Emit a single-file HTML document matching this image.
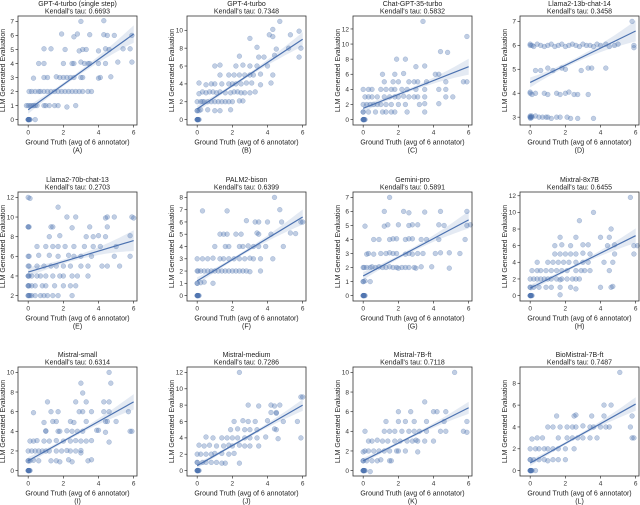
<!DOCTYPE html>
<html><head><meta charset="utf-8"><style>
html,body{margin:0;padding:0;background:#fff;}
svg{display:block;font-family:"Liberation Sans",sans-serif;}
</style></head><body>
<svg id="chart" width="640" height="505" viewBox="0 0 640 505" xmlns="http://www.w3.org/2000/svg"></svg>
<script>
const titles = ["GPT-4-turbo (single step)","GPT-4-turbo","Chat-GPT-35-turbo","Llama2-13b-chat-14","Llama2-70b-chat-13","PALM2-bison","Gemini-pro","Mixtral-8x7B","Mistral-small","Mistral-medium","Mistral-7B-ft","BioMistral-7B-ft"];
const taus = ["0.6693","0.7348","0.5832","0.3458","0.2703","0.6399","0.5891","0.6455","0.6314","0.7286","0.7118","0.7487"];
const letters = ["A","B","C","D","E","F","G","H","I","J","K","L"];
const xTicks = [0,2,4,6];
const yTickSets = [[0,1,2,3,4,5,6,7],[0,2,4,6,8,10],[0,2,4,6,8,10,12],[3,4,5,6,7],[2,4,6,8,10,12],[0,1,2,3,4,5,6,7,8],[0,1,2,3,4,5,6,7],[0,2,4,6,8,10,12],[0,2,4,6,8,10],[0,2,4,6,8,10,12],[0,2,4,6,8,10],[0,2,4,6,8]];
const yDataMin = [0,0,0,2.9,2,0,0,0,0,0,0,0];
const yDataMax = [7,11,13,7,12,8,7,11.8,10,12,10,9];
const fitStart = [0.7,1.2,1.5,4.45,4.4,1.2,1.4,0.9,1.0,0.6,1.0,0.7];
const fitEnd = [6.1,9.0,7.0,6.6,7.6,6.4,5.4,7.2,7.0,8.0,6.4,6.1];
const bandWidth = [0.35,0.45,0.6,0.25,0.6,0.35,0.35,0.5,0.45,0.4,0.35,0.35];
const Z8 = [[0,0],[0,0],[0,0],[0.02,0],[0.05,0],[0.08,0],[0.1,0],[0.03,0]];
const points = [
Z8.concat([[0.4,0],[-0.1,1],[0,1],[0.1,1],[0.2,1],[0.3,1],[0.4,1],[0.5,1],[0.9,1],[1.0,1],[1.2,1],[1.5,1],[1.7,1],[2.2,0.9],[2.7,1],[0.05,2],[0.2,2],[0.4,2],[0.6,2],[0.7,2],[0.9,2],[1.1,2],[1.3,2],[1.5,2],[1.7,2],[1.9,2],[2.1,2],[2.3,2],[2.5,2],[2.7,2],[2.9,2],[3.1,2],[3.4,2],[3.6,2],[0.3,2.95],[0.9,3],[1.1,3],[1.6,3.05],[1.8,3],[2.0,3],[2.2,3],[2.4,3],[2.6,3],[3.0,3],[3.1,3],[4.0,2.95],[4.1,3],[4.7,3.05],[0.6,4],[0.9,4],[2.0,4],[2.5,4],[2.6,4],[3.0,4.1],[3.2,4],[3.4,4],[3.5,4],[4.0,4],[4.4,4],[5.1,4.1],[5.9,4.1],[0.9,5.05],[1.3,5.05],[2.1,5],[2.9,4.9],[3.1,5],[3.3,5],[4.0,4.9],[4.4,5.05],[4.6,5],[5.4,5.05],[5.8,5.05],[1.9,6.1],[2.6,5.9],[2.8,6.1],[3.5,6.05],[4.3,6.05],[4.5,6],[4.9,6],[5.9,6],[3.0,7],[4.3,7.05]]),
Z8.concat([[0,1],[0,1],[0.1,1],[0.2,1.1],[0.6,1.1],[1.0,1],[1.3,1],[1.9,1.1],[0,2],[0.2,2],[0.3,2],[0.4,2],[0.6,2],[0.8,2],[1.0,2],[1.2,2],[1.4,2],[1.6,2],[1.8,2],[2.0,2],[2.4,2.1],[2.6,2.1],[0.1,2.9],[0.3,3.1],[0.5,3],[0.7,3.1],[0.9,3.1],[1.1,3],[1.3,3.1],[1.6,3],[1.9,3],[2.1,3.1],[2.3,3.1],[2.5,3],[2.7,3],[3.0,3],[3.3,3.1],[0.1,4.1],[0.5,3.9],[0.8,4],[1.0,4],[1.4,4],[1.8,4],[2.0,4],[2.2,4],[2.5,4],[2.8,4.1],[3.1,4.1],[3.6,3.9],[4.2,4.1],[1.3,5],[1.8,5],[2.1,5],[2.4,5],[2.7,5],[3.0,5],[3.2,5],[3.6,5.1],[4.3,5],[1.0,6],[1.3,6.1],[2.2,6],[2.6,6.1],[3.0,6],[3.4,6],[4.0,6],[2.4,7.1],[3.5,7],[3.8,7],[4.4,7.2],[5.8,7],[3.4,8.1],[4.5,7.9],[5.2,8],[5.9,8],[3.0,9.1],[4.1,9.5],[4.3,9.3],[4.3,10.1],[5.3,9.5],[5.8,9.9],[4.7,11]]),
Z8.concat([[0,1],[0,1],[0.3,1],[0.7,1],[1.1,1],[1.3,1],[1.6,1],[1.8,1],[2.5,1],[3.5,1],[0,2],[0.2,2],[0.4,2],[0.6,2],[0.8,2],[1.0,2],[1.3,2],[1.6,2],[2.0,2],[2.4,2],[3.2,2],[3.5,2.1],[4.3,2.1],[0.1,3],[0.3,3],[0.5,3],[0.8,3],[1.2,3],[1.5,3],[1.8,3],[2.0,3],[2.3,3.1],[2.6,3],[2.9,3],[3.1,3],[3.5,3],[4.7,3],[5.1,3],[0,4],[0.3,4],[0.5,4],[1.0,4],[1.3,4],[1.6,4],[1.8,4],[2.2,4],[2.5,4],[3.0,4],[3.5,4],[4.3,4],[4.7,4],[1.2,5],[1.7,5],[2.0,5],[2.6,5],[2.9,5],[3.1,5],[3.6,5],[4.7,5],[5.7,5],[5.9,5],[1.1,6],[1.8,6],[2.3,6.1],[4.1,6],[4.3,6],[1.9,8],[2.4,8],[3.0,7],[3.5,7.1],[4.4,9],[4.8,8.9],[5.9,11],[3.4,13]]),
[[0,3],[0,3],[0,3.05],[0.02,2.95],[0.05,3],[0.08,3.05],[0.1,3],[0.3,3.05],[0.5,3],[0.7,3],[0.9,3],[1.0,3],[1.2,2.95],[1.5,3],[1.7,3],[2.1,3],[2.3,2.95],[2.7,2.95],[3.6,2.95],[0,4],[0,4.05],[0.1,3.95],[0.3,4],[0.8,4],[1.0,3.95],[1.5,4],[1.7,3.95],[2.0,4],[2.2,4.05],[2.5,3.95],[2.7,3.95],[3.3,3.95],[0.3,4.95],[0.6,4.95],[1.0,5.05],[1.3,4.95],[1.8,5.05],[2.0,5],[2.9,4.95],[3.3,5.05],[3.5,5.05],[4.3,5.05],[0,6],[0,6.05],[0.1,6],[0.2,5.95],[0.4,6.05],[0.6,6],[0.8,5.95],[1.0,6],[1.2,6.05],[1.4,5.95],[1.6,6],[1.8,6.05],[2.0,5.95],[2.2,6],[2.4,6.05],[2.6,6],[2.8,5.95],[3.0,6.05],[3.2,6],[3.4,6],[3.6,5.95],[3.8,6.05],[4.0,6],[4.3,6.05],[4.5,5.95],[4.8,6],[5.0,6.05],[5.9,6],[5.9,5.9],[5.8,7]],
[[0,2],[0,2],[0.05,2],[0.1,2],[0.2,2],[0.4,2],[0.7,2],[0.9,2],[1.1,2],[1.4,2],[1.7,2],[2.5,2],[0,3],[0,3],[0.05,3],[0.2,3],[0.4,3],[0.8,3],[1.0,3],[1.5,3],[2.0,3],[2.4,3],[2.7,3],[0,4],[0,4],[0.05,4],[0.2,4],[0.5,4],[0.7,4],[1.0,4],[1.4,4],[1.8,4],[2.0,4],[2.5,4],[2.8,4],[3.4,4],[0,5],[0.05,5],[0.5,5],[0.9,5],[1.3,5],[1.6,5],[2.0,5],[2.4,5],[3.0,5],[3.4,5],[4.2,5],[4.5,5],[5.2,5],[0,6],[0.05,6],[0.6,6.1],[1.2,6.1],[1.7,6],[2.3,6.1],[2.6,6],[3.0,6],[3.6,6],[4.9,6],[5.8,6],[0.5,7],[1.0,7],[1.4,7],[1.7,7],[2.1,7],[2.6,7],[3.2,7],[3.7,7],[4.1,7],[5.0,7],[1.2,8],[1.8,8.1],[3.3,8],[3.7,8],[4.0,8.1],[4.4,8],[5.8,8.1],[0,9],[0,9],[0.05,9],[1.3,9],[1.4,9],[2.5,8.9],[3.5,9],[4.5,9],[2.2,10],[2.7,10],[4.4,9.9],[4.5,10],[4.9,10],[5.9,10],[6.0,9.9],[1.7,11],[0,12],[0.1,11.9]],
Z8.concat([[0,1],[0,1],[0.2,1.05],[0.4,1.1],[0.9,1],[0,2],[0.05,2],[0.2,2],[0.4,2],[0.6,2],[0.8,2],[1.0,2],[1.2,2],[1.4,2],[1.6,2],[1.8,2],[2.0,2],[2.2,2],[2.4,2],[2.6,2],[2.8,2],[3.0,1.95],[3.6,2],[0,3],[0.3,3],[0.6,3],[0.9,3.05],[1.3,3],[1.5,3],[1.8,3],[2.1,3],[2.4,3],[2.7,3],[3.0,3.05],[3.2,3],[3.6,3],[4.3,3],[1.0,4],[1.6,4],[1.8,4],[2.4,4],[2.6,4],[2.9,4.05],[3.2,4],[3.5,4],[3.9,4],[4.9,4],[1.3,5],[1.5,5],[1.7,5],[2.2,5],[2.5,5],[3.4,5.1],[3.5,5],[4.2,5],[5.3,5.1],[5.6,5.05],[2.8,6.1],[3.3,6],[3.5,6],[4.0,6],[4.8,6],[5.9,6],[6.0,6],[0.3,6.9],[1.7,6.9],[4.7,7],[4.4,8]]),
Z8.concat([[0,1],[0,1],[0.1,1.05],[0.4,1],[0,2],[0.05,2],[0.2,2],[0.4,2],[0.5,2.05],[0.7,2],[0.9,2.05],[1.1,2],[1.3,2],[1.5,2.05],[1.7,2],[1.9,2],[2.0,1.95],[2.2,2],[2.4,2],[2.6,2],[2.9,2],[3.0,1.95],[3.3,2.05],[3.9,2.05],[4.9,1.95],[0.2,2.95],[0.3,3],[0.6,2.95],[1.0,3],[1.3,3],[1.5,3.05],[1.7,3],[1.9,3],[2.4,2.95],[2.6,3],[2.8,2.95],[3.1,3],[3.4,3],[4.1,3],[4.4,3.05],[4.9,3.05],[5.5,3],[0.6,4],[0.9,4],[1.5,4],[1.7,4.05],[1.9,4.05],[2.4,4],[2.6,4.05],[2.8,4.05],[3.3,4],[3.6,4],[4.3,4],[5.8,4],[0.1,4.95],[1.2,4.95],[1.4,5.05],[2.0,5.05],[2.6,5],[2.8,5.05],[3.1,5.05],[4.3,5.05],[4.6,5],[5.9,5],[6.1,5.05],[1.2,6],[2.3,6],[2.6,5.9],[3.5,5.95],[4.4,6],[5.9,6],[1.5,7]]),
Z8.concat([[0,1],[0,1],[0.2,1],[0.5,1],[0.9,1],[1.2,1],[1.7,1],[2.3,1],[4.0,1],[4.6,1],[4.7,1.1],[2.6,0.8],[1.7,0.1],[0,2],[0.2,2],[0.4,2],[0.6,2],[0.8,2],[1.0,2],[1.2,2],[1.5,2],[1.8,2],[2.1,2],[2.4,2],[2.6,2],[2.8,2],[1.7,1.9],[0.1,3],[0.4,3],[0.6,3],[0.9,3],[1.2,3],[1.5,3],[1.8,3],[2.1,3],[2.6,3],[2.9,3],[3.1,3],[3.4,3],[4.5,3],[0.4,4],[1.0,4],[1.3,4],[1.6,4],[1.9,4],[2.2,4],[2.6,4],[3.0,4],[3.3,4],[4.2,4],[4.7,4],[1.4,5],[1.7,5],[2.0,5],[2.3,5],[2.6,5],[3.0,5.1],[3.4,5],[4.8,5],[5.9,5],[1.4,6],[1.8,6.1],[2.3,6],[3.0,6.1],[3.3,6.1],[4.4,6],[4.8,6.1],[5.9,6],[6.1,6],[1.7,7],[2.6,7],[4.0,7],[4.5,7],[4.6,8],[2.8,9],[3.6,10],[5.7,11.8]]),
Z8.concat([[0,1],[0,1],[0.1,1],[0.3,1.05],[0.6,1],[1.3,1],[1.6,1],[1.8,0.9],[2.3,1.1],[2.5,0.9],[3.4,1],[3.6,1.1],[0,2],[0.2,2],[0.4,2],[0.6,2],[0.8,2],[1.0,2],[1.2,2],[1.6,2],[1.9,2],[2.2,2.05],[2.4,2],[2.7,2],[3.0,2.05],[3.0,1.8],[0.1,3],[0.3,3],[0.5,3.05],[0.9,3],[1.2,3],[1.6,3.05],[2.0,3],[2.4,3],[2.7,3.05],[3.0,3],[3.3,3],[3.6,3.05],[4.6,2.9],[1.0,4],[1.0,4.05],[1.7,4],[1.8,4],[2.2,4.05],[2.5,4],[2.8,4],[3.1,4],[3.9,4.1],[4.0,4.1],[4.4,3.9],[5.8,4],[5.9,4],[0.9,4.9],[1.4,5],[1.6,5],[2.4,5],[2.6,4.9],[3.3,5],[4.4,5],[4.5,5],[5.0,5],[0.3,5.9],[1.3,6],[1.7,6],[2.9,6],[3.1,6],[3.6,6],[4.3,6],[4.6,6],[5.7,6],[1.1,7],[2.7,7],[3.3,7],[4.3,7],[4.6,7],[3.1,7.9],[3.0,8.9],[4.7,8.9],[4.6,10]]),
Z8.concat([[0,1],[0,1],[0.3,1],[0.5,1],[0.8,1],[1.1,1],[1.4,0.9],[1.6,0.9],[2.4,0.9],[0,2],[0.2,2],[0.5,2],[0.8,2],[1.0,2.1],[1.4,2.1],[1.8,2],[2.1,2.1],[0.1,3.1],[0.4,3],[0.7,3.1],[1.1,3],[1.5,3],[1.8,3.1],[2.0,3],[2.4,3.1],[2.7,3],[3.0,3],[3.5,3],[0.5,4.1],[0.9,4],[1.4,4],[1.7,4],[2.0,4],[2.3,4],[2.7,4],[3.0,4],[3.4,4],[3.9,4.1],[4.6,3.9],[5.9,4],[1.9,5],[2.3,5.1],[2.7,5],[3.0,5],[3.4,5],[4.5,5],[4.4,5.1],[2.1,6],[2.6,6.1],[2.9,6],[3.3,6],[4.0,6.1],[4.9,6],[5.7,6],[4.2,7.1],[4.5,7.1],[4.5,7],[2.9,8],[3.5,7.9],[4.2,8],[4.4,7.9],[4.7,8],[5.9,9],[6.0,9],[2.4,12]]),
Z8.concat([[0.4,-0.1],[0,1],[0,1],[0.2,1],[0.5,1],[0.8,1],[1.0,1.1],[1.5,1],[1.6,1],[0,1.9],[0.1,2],[0.3,2],[0.6,2],[0.9,2],[1.2,2],[1.5,2],[1.9,2],[2.0,2],[2.4,2],[3.1,1.9],[0.3,3],[0.5,3],[0.8,3.1],[1.1,3],[1.4,3],[1.8,3],[2.1,3],[2.5,3],[2.8,3],[3.1,3],[3.5,3],[4.0,3],[3.0,3.1],[0.1,4],[1.2,4],[1.5,4],[1.8,4],[2.2,4],[2.6,4],[2.9,4],[3.2,4],[3.6,4],[4.4,4],[4.7,4],[5.7,4],[5.9,3.9],[1.3,5],[2.0,5],[2.4,5],[2.9,5],[3.6,5],[4.6,5],[5.9,5],[2.0,6],[2.7,6],[4.0,6],[4.2,6],[4.7,6],[3.5,7],[5.2,10]]),
Z8.concat([[0.3,0],[0,1],[0,1],[0.2,1],[0.5,1],[0.8,1],[1.0,0.9],[1.3,1],[1.6,1],[2.0,1],[0,2],[0.3,2],[0.5,2],[0.8,2],[1.0,2],[1.3,2],[1.6,2],[2.0,2],[2.5,2],[0.1,2.9],[0.4,3],[0.7,3],[1.6,3],[2.1,3],[2.4,3],[2.7,3],[3.0,3],[3.4,3],[3.8,3],[5.9,3],[5.8,3],[1.0,4],[1.3,4],[1.7,4],[2.1,4],[2.4,4],[2.6,4],[3.0,4.1],[3.4,4],[3.6,4],[4.0,4],[4.3,4],[4.5,4],[5.7,4],[1.5,5],[2.5,5],[2.6,5.1],[3.5,5],[4.2,5],[5.8,5],[4.2,6],[4.6,6],[5.1,9]])
];

const NS = "http://www.w3.org/2000/svg";
const svg = document.getElementById("chart");
const colLeft = [18,187,353,520], rowTop = [16,192,367], PW = 119, PH = 109;
const XMIN = -0.58, XMAX = 6.19, C = "#4c72b0";
function mk(tag, attrs, parent, text){
  const e = document.createElementNS(NS, tag);
  for (const k in attrs) e.setAttribute(k, attrs[k]);
  if (text !== undefined) e.textContent = text;
  parent.appendChild(e);
  return e;
}
for (let i = 0; i < 12; i++){
  const L = colLeft[i % 4], T = rowTop[Math.floor(i / 4)], R = L + PW, B = T + PH;
  const r = yDataMax[i] - yDataMin[i];
  const ylo = yDataMin[i] - 0.055 * r, yhi = yDataMax[i] + 0.055 * r;
  const sx = v => L + (v - XMIN) / (XMAX - XMIN) * PW;
  const sy = v => B - (v - ylo) / (yhi - ylo) * PH;
  const g = mk("g", {}, svg);
  
  
  const t1 = mk("text", {x: (L + R) / 2, y: T - 10, "font-size": 7, "text-anchor": "middle", fill: "#222"}, g, titles[i]);
  
  
  const t2 = mk("text", {x: (L + R) / 2, y: T - 2.5, "font-size": 7, "text-anchor": "middle", fill: "#222"}, g, "Kendall's tau: " + taus[i]);
  
  
  const nb = 30; let up = [], dn = [];
  for (let k = 0; k <= nb; k++){
    const x = 6 * k / nb;
    const y = fitStart[i] + (fitEnd[i] - fitStart[i]) * x / 6;
    const h = bandWidth[i] * (0.35 + Math.pow((x - 2.2) / 3.2, 2));
    up.push(sx(x).toFixed(1) + "," + sy(y + h).toFixed(1));
    dn.unshift(sx(x).toFixed(1) + "," + sy(y - h).toFixed(1));
  }
  const band = mk("polygon", {points: up.concat(dn).join(" "), fill: C, "fill-opacity": 0.15}, g);
  
  
  for (const p of points[i]){
    const c = mk("circle", {cx: sx(p[0]).toFixed(1), cy: sy(p[1]).toFixed(1), r: 2.4, fill: C, "fill-opacity": 0.35, stroke: C, "stroke-opacity": 0.4, "stroke-width": 0.5}, g);
    
    
  }
  const ln = mk("line", {x1: sx(0), y1: sy(fitStart[i]), x2: sx(6), y2: sy(fitEnd[i]), stroke: C, "stroke-width": 1.2}, g);
  
  
  const box = mk("rect", {x: L, y: T, width: PW, height: PH, fill: "none", stroke: "#333", "stroke-width": 0.8}, g);
  
  
  for (const xt of xTicks){
    mk("line", {x1: sx(xt), x2: sx(xt), y1: B, y2: B + 2.5, stroke: "#333", "stroke-width": 0.7}, g);
    const tl = mk("text", {x: sx(xt), y: B + 9.5, "font-size": 6.5, "text-anchor": "middle", fill: "#333"}, g, String(xt));
    
    
  }
  for (const yt of yTickSets[i]){
    mk("line", {x1: L - 2.5, x2: L, y1: sy(yt), y2: sy(yt), stroke: "#333", "stroke-width": 0.7}, g);
    const tl = mk("text", {x: L - 4, y: sy(yt) + 2.3, "font-size": 6.5, "text-anchor": "end", fill: "#333"}, g, String(yt));
    
    
  }
  const xl = mk("text", {x: (L + R) / 2, y: B + 19.5, "font-size": 7, "text-anchor": "middle", fill: "#222"}, g, "Ground Truth (avg of 6 annotator)");
  
  
  const pl = mk("text", {x: (L + R) / 2, y: B + 27.5, "font-size": 7, "text-anchor": "middle", fill: "#222"}, g, "(" + letters[i] + ")");
  
  
  const cy = (T + B) / 2, cx = L - 13;
  const yl = mk("text", {x: cx, y: cy, "font-size": 7, "text-anchor": "middle", fill: "#222", transform: "rotate(-90 " + cx + " " + cy + ")"}, g, "LLM Generated Evaluation");
  
  
}
</script>
</body></html>
